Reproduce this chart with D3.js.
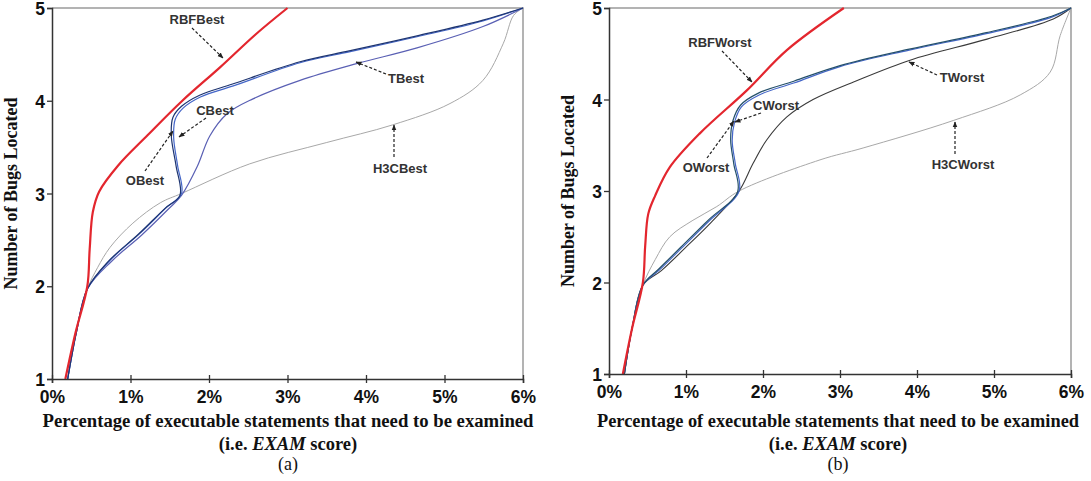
<!DOCTYPE html>
<html>
<head>
<meta charset="utf-8">
<script src="https://cdn.jsdelivr.net/npm/d3@7"></script>
<style>
  body { margin: 0; background: #fff; }
  svg { display: block; }
</style>
</head>
<body>
<svg id="chart" width="1091" height="481"></svg>
<script>
// tick labels
const xTicks = [0, 1, 2, 3, 4, 5, 6];
const yTicks = [1, 2, 3, 4, 5];

// panel (a): [exam %, bugs located]
const rbfBest = [[0.17,1],[0.3,1.5],[0.45,2.0],[0.48,2.4],[0.52,2.8],[0.6,3.02],[0.84,3.3],[1.22,3.63],[1.66,4.0],[2.14,4.36],[2.6,4.72],[3.0,5.0]];
const oBest = [[0.2,1],[0.31,1.5],[0.45,1.97],[0.74,2.28],[1.12,2.57],[1.46,2.85],[1.65,3.0],[1.6,3.3],[1.55,3.6],[1.57,3.8],[1.67,3.92],[1.89,4.04],[2.31,4.16],[3.16,4.41],[3.8,4.53],[4.65,4.69],[5.49,4.86],[6,5]];
const cBest = [[0.2,1],[0.31,1.5],[0.45,1.97],[0.72,2.27],[1.1,2.56],[1.44,2.84],[1.63,2.98],[1.58,3.3],[1.52,3.62],[1.54,3.82],[1.65,3.94],[1.88,4.06],[2.3,4.18],[3.16,4.42],[3.8,4.54],[4.65,4.7],[5.49,4.87],[6,5]];
const tBest = [[0.2,1],[0.31,1.5],[0.45,1.97],[0.76,2.27],[1.14,2.55],[1.48,2.83],[1.65,2.98],[1.85,3.29],[2.01,3.62],[2.23,3.86],[2.56,4.02],[3.16,4.22],[3.88,4.4],[4.65,4.57],[5.49,4.8],[6,5]];
const h3cBest = [[0.2,1],[0.3,1.5],[0.45,1.97],[0.58,2.2],[0.74,2.42],[1.03,2.68],[1.38,2.9],[1.65,3.0],[2.52,3.32],[3.5,3.55],[4.34,3.74],[5.07,3.97],[5.49,4.22],[5.75,4.62],[5.88,4.92],[6,5]];

// panel (b)
const rbfWorst = [[0.18,1],[0.3,1.5],[0.44,2.0],[0.47,2.4],[0.51,2.75],[0.6,2.95],[0.79,3.26],[1.18,3.63],[1.79,4.1],[2.31,4.54],[3.05,5.0]];
const oWorst = [[0.2,1],[0.3,1.5],[0.44,1.97],[0.66,2.14],[0.96,2.39],[1.31,2.68],[1.69,3.0],[1.64,3.3],[1.6,3.55],[1.63,3.75],[1.72,3.92],[1.95,4.05],[2.4,4.18],[3.0,4.36],[3.9,4.54],[4.9,4.72],[5.75,4.9],[6,5]];
const cWorst = [[0.2,1],[0.3,1.5],[0.44,1.97],[0.65,2.15],[0.95,2.4],[1.3,2.69],[1.67,2.99],[1.62,3.3],[1.58,3.56],[1.61,3.77],[1.71,3.94],[1.94,4.07],[2.4,4.2],[3.0,4.37],[3.9,4.55],[4.9,4.73],[5.75,4.91],[6,5]];
const tWorst = [[0.2,1],[0.3,1.5],[0.44,1.97],[0.68,2.13],[0.98,2.37],[1.33,2.66],[1.69,3.0],[1.87,3.3],[2.05,3.56],[2.31,3.81],[2.65,4.0],[3.2,4.2],[3.91,4.43],[4.91,4.66],[5.77,4.88],[6,5]];
const h3cWorst = [[0.2,1],[0.3,1.5],[0.44,1.97],[0.6,2.25],[0.79,2.5],[1.09,2.68],[1.4,2.83],[1.69,3.0],[2.74,3.34],[3.3,3.47],[4.47,3.77],[5.34,4.05],[5.73,4.3],[5.86,4.7],[6,5]];

const svg = d3.select("#chart");

svg.append("defs").append("marker")
    .attr("id", "head")
    .attr("viewBox", "0 0 10 10")
    .attr("refX", 9).attr("refY", 5)
    .attr("markerWidth", 5).attr("markerHeight", 5)
    .attr("orient", "auto")
  .append("path")
    .attr("d", "M0,1L10,5L0,9Z")
    .attr("fill", "#222");

const panels = [
    {
        x0: 52, x1: 523, y0: 379, y1: 8, mid: 288, titleW: 491, tag: "(a)",
        series: [
            { data: h3cBest, color: "#a8a8a8", width: 1 },
            { data: tBest, color: "#5a60b4", width: 1.2 },
            { data: oBest, color: "#4466c8", width: 1.2 },
            { data: cBest, color: "#1e3570", width: 1.2 },
            { data: rbfBest, color: "#e3262e", width: 2.2 }
        ],
        labels: [
            { text: "RBFBest", x: 197, y: 24, from: [192, 28], to: [223, 58] },
            { text: "CBest", x: 215, y: 115, from: [206, 118], to: [179, 137] },
            { text: "OBest", x: 145, y: 185, from: [145, 171], to: [173, 131] },
            { text: "TBest", x: 406, y: 83, from: [386, 74], to: [356, 62] },
            { text: "H3CBest", x: 400, y: 173, from: [394, 157], to: [394, 125] }
        ]
    },
    {
        x0: 609, x1: 1071, y0: 374, y1: 8, mid: 838, titleW: 482, tag: "(b)",
        series: [
            { data: h3cWorst, color: "#a8a8a8", width: 1 },
            { data: tWorst, color: "#3a3a3a", width: 1.1 },
            { data: oWorst, color: "#4466c8", width: 1.2 },
            { data: cWorst, color: "#24506a", width: 1.2 },
            { data: rbfWorst, color: "#e3262e", width: 2.2 }
        ],
        labels: [
            { text: "RBFWorst", x: 720, y: 47, from: [722, 51], to: [752, 82] },
            { text: "CWorst", x: 776, y: 110, from: [761, 113], to: [735, 122] },
            { text: "OWorst", x: 706, y: 172, from: [707, 158], to: [734, 121] },
            { text: "TWorst", x: 962, y: 82, from: [937, 75], to: [909, 62] },
            { text: "H3CWorst", x: 963, y: 169, from: [955, 154], to: [955, 122] }
        ]
    }
];

panels.forEach(p => {
    const x = d3.scaleLinear().domain([0, 6]).range([p.x0, p.x1]);
    const y = d3.scaleLinear().domain([1, 5]).range([p.y0, p.y1]);
    const g = svg.append("g");

    // light frame on top and right
    g.append("path")
        .attr("d", `M${p.x0},${p.y1}H${p.x1}V${p.y0}`)
        .attr("fill", "none")
        .attr("stroke", "#9a9a9a")
        .attr("stroke-width", 1.5);

    const line = d3.line()
        .x(d => x(d[0]))
        .y(d => y(d[1]))
        .curve(d3.curveCatmullRom.alpha(0.5));

    p.series.forEach(s => {
        g.append("path")
            .attr("d", line(s.data))
            .attr("fill", "none")
            .attr("stroke", s.color)
            .attr("stroke-width", s.width);
    });

    // axes
    const xAxis = g.append("g")
        .attr("transform", `translate(0,${p.y0})`)
        .call(d3.axisBottom(x).tickValues(xTicks).tickSize(4).tickFormat(d => d + "%"));
    xAxis.selectAll(".tick line").attr("y1", -4);
    xAxis.select(".domain").attr("stroke", "#333").attr("stroke-width", 1.5);
    xAxis.selectAll(".tick line").attr("stroke", "#333").attr("stroke-width", 1.3);
    xAxis.selectAll(".tick text")
        .attr("y", 24)
        .attr("dy", null)
        .attr("font-family", "Arial, 'Liberation Sans', sans-serif")
        .attr("font-weight", "bold")
        .attr("font-size", 17.5)
        .attr("fill", "#111");

    const yAxis = g.append("g")
        .attr("transform", `translate(${p.x0},0)`)
        .call(d3.axisLeft(y).tickValues(yTicks).tickSize(5).tickFormat(d3.format("d")));
    yAxis.select(".domain").attr("stroke", "#333").attr("stroke-width", 1.5);
    yAxis.selectAll(".tick line").attr("stroke", "#333").attr("stroke-width", 1.3);
    yAxis.selectAll(".tick text")
        .attr("x", -7)
        .attr("dy", "0.38em")
        .attr("font-family", "Arial, 'Liberation Sans', sans-serif")
        .attr("font-weight", "bold")
        .attr("font-size", 17.5)
        .attr("fill", "#111");

    // series labels with dashed arrows
    p.labels.forEach(l => {
        g.append("line")
            .attr("x1", l.from[0]).attr("y1", l.from[1])
            .attr("x2", l.to[0]).attr("y2", l.to[1])
            .attr("stroke", "#222")
            .attr("stroke-width", 1.2)
            .attr("stroke-dasharray", "3,2")
            .attr("marker-end", "url(#head)");
        g.append("text")
            .attr("x", l.x).attr("y", l.y)
            .attr("text-anchor", "middle")
            .attr("font-family", "Arial, 'Liberation Sans', sans-serif")
            .attr("font-weight", "bold")
            .attr("font-size", 13)
            .attr("fill", "#333")
            .text(l.text);
    });

    // titles
    g.append("text")
        .attr("transform", `translate(${p.x0 - 35},${(p.y0 + p.y1) / 2}) rotate(-90)`)
        .attr("text-anchor", "middle")
        .attr("font-family", "'Liberation Serif', 'Times New Roman', serif")
        .attr("font-weight", "bold")
        .attr("font-size", 18)
        .attr("fill", "#111")
        .text("Number of Bugs Located");

    g.append("text")
        .attr("x", p.mid).attr("y", 427)
        .attr("text-anchor", "middle")
        .attr("font-family", "'Liberation Serif', 'Times New Roman', serif")
        .attr("font-weight", "bold")
        .attr("font-size", 18.5)
        .attr("textLength", p.titleW)
        .attr("lengthAdjust", "spacingAndGlyphs")
        .attr("fill", "#111")
        .text("Percentage of executable statements that need to be examined");

    const t2 = g.append("text")
        .attr("x", p.mid).attr("y", 450)
        .attr("text-anchor", "middle")
        .attr("font-family", "'Liberation Serif', 'Times New Roman', serif")
        .attr("font-weight", "bold")
        .attr("font-size", 18.5)
        .attr("fill", "#111");
    t2.append("tspan").text("(i.e. ");
    t2.append("tspan").attr("font-style", "italic").text("EXAM");
    t2.append("tspan").text(" score)");

    g.append("text")
        .attr("x", p.mid).attr("y", 470)
        .attr("text-anchor", "middle")
        .attr("font-family", "'Liberation Serif', 'Times New Roman', serif")
        .attr("font-size", 18)
        .attr("fill", "#111")
        .text(p.tag);
});
</script>
</body>
</html>
